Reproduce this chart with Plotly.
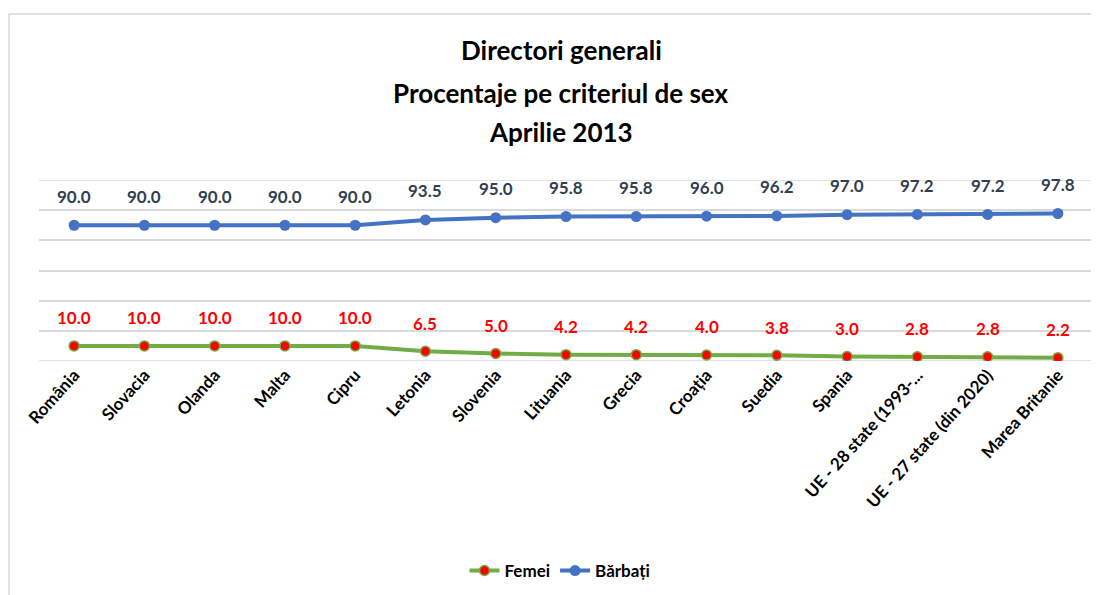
import plotly.graph_objects as go

categories = ["România", "Slovacia", "Olanda", "Malta", "Cipru", "Letonia", "Slovenia",
              "Lituania", "Grecia", "Croația", "Suedia", "Spania",
              "UE - 28 state (1993-...", "UE - 27 state (din 2020)", "Marea Britanie"]
femei = [10.0, 10.0, 10.0, 10.0, 10.0, 6.5, 5.0, 4.2, 4.2, 4.0, 3.8, 3.0, 2.8, 2.8, 2.2]
barbati = [90.0, 90.0, 90.0, 90.0, 90.0, 93.5, 95.0, 95.8, 95.8, 96.0, 96.2, 97.0, 97.2, 97.2, 97.8]
title_lines = ["Directori generali", "Procentaje pe criteriul de sex", "Aprilie 2013"]
y_ticks = [0, 20, 40, 60, 80, 100, 120]

FONT = "Lato"
OFF = 8  # page body margin
W, H = 1099 - OFF, 595 - OFF
L, R, T, B = 39 - OFF, 6, 180 - OFF, 595 - 361
pw, ph = W - L - R, H - T - B
GRID = "#D9D9D9"


def px_x(x):
    return (x - OFF - L) / pw


def px_y(y):
    return (H - B - (y - OFF)) / ph


fig = go.Figure()
fig.add_trace(go.Scatter(
    x=categories, y=femei, name="<b>Femei</b>", mode="lines+markers",
    line=dict(color="#70AD47", width=4),
    marker=dict(color="#FF0000", size=10, line=dict(color="#70AD47", width=1.5)),
))
fig.add_trace(go.Scatter(
    x=categories, y=barbati, name="<b>Bărbați</b>", mode="lines+markers",
    line=dict(color="#4472C4", width=4),
    marker=dict(color="#4472C4", size=11),
))

annotations = []
for c, v in zip(categories, barbati):
    annotations.append(dict(x=c, y=v, text=f"<b>{v:.1f}</b>", showarrow=False,
                            yshift=29, font=dict(family=FONT, size=17, color="#333F50")))
for c, v in zip(categories, femei):
    annotations.append(dict(x=c, y=v, text=f"<b>{v:.1f}</b>", showarrow=False,
                            yshift=28, font=dict(family=FONT, size=17, color="#FF0000")))
title_y = [50, 93, 132]
for t, yp in zip(title_lines, title_y):
    annotations.append(dict(xref="paper", yref="paper", x=px_x(561), y=px_y(yp),
                            text=f"<b>{t}</b>", showarrow=False, xanchor="center", yanchor="middle",
                            font=dict(family=FONT, size=26, color="#000000")))

shapes = [dict(type="rect", xref="paper", yref="paper",
               x0=px_x(9), x1=px_x(1098), y0=px_y(610), y1=px_y(14),
               line=dict(color=GRID, width=1.5), fillcolor="rgba(0,0,0,0)", layer="below")]
# edge gridlines (plotly hides gridlines that sit on the plot edge)
for yv in (y_ticks[0], y_ticks[-1]):
    shapes.append(dict(type="line", xref="paper", yref="y", x0=0, x1=1, y0=yv, y1=yv,
                       line=dict(color=GRID, width=1.5), layer="below"))

fig.update_layout(
    width=W, height=H,
    margin=dict(l=L, r=R, t=T, b=B, autoexpand=False),
    paper_bgcolor="white", plot_bgcolor="white",
    showlegend=True,
    legend=dict(orientation="h", xref="container", yref="container",
                x=(560 - OFF) / W, xanchor="center", y=1 - (571 - OFF) / H,
                yanchor="middle", font=dict(family=FONT, size=17, color="#000000"),
                traceorder="normal"),
    annotations=annotations,
    shapes=shapes,
    xaxis=dict(showgrid=False, showline=False, zeroline=False, ticks="", automargin=False,
               tickangle=-48, tickfont=dict(family=FONT, size=17, color="#000000"),
               tickvals=categories, ticktext=[f"<b>{c}</b>" for c in categories],
               range=[-0.5, len(categories) - 0.5]),
    yaxis=dict(range=[y_ticks[0], y_ticks[-1]], tickvals=y_ticks, showgrid=True,
               gridcolor=GRID, gridwidth=1.5,
               showticklabels=False, zeroline=False, showline=False, automargin=False),
    font=dict(family=FONT),
)

fig.write_html("out.html")
